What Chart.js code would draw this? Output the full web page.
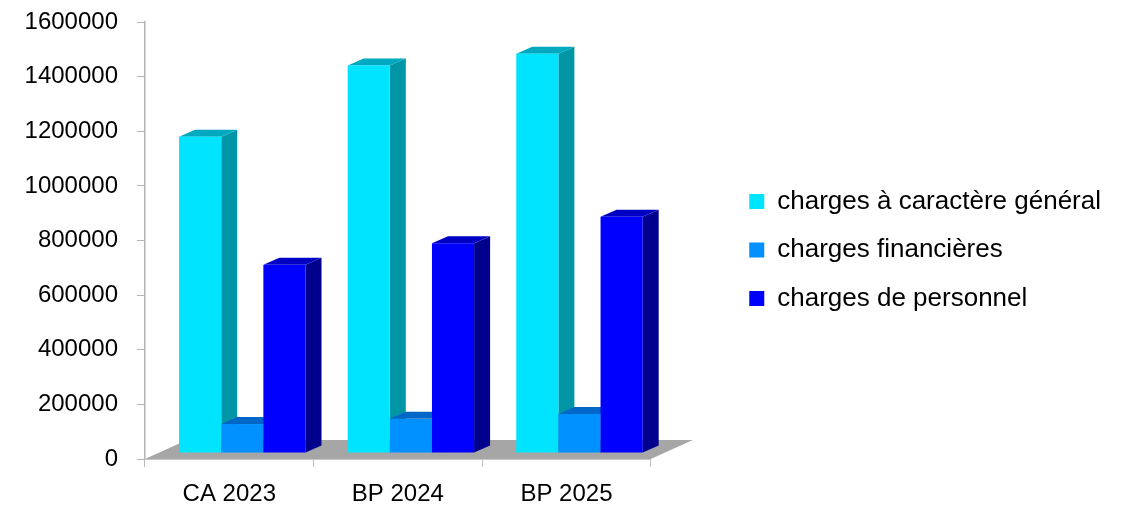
<!DOCTYPE html>
<html lang="fr">
<head>
<meta charset="utf-8">
<title>Charges</title>
<script src="https://cdn.jsdelivr.net/npm/chart.js@4.4.1/dist/chart.umd.min.js"></script>
<style>
  html, body { margin: 0; padding: 0; background: #fff; }
  canvas { display: block; }
</style>
</head>
<body>
<canvas id="chart" width="1124" height="505"></canvas>
<script>
// --- data ---
const CATEGORIES = ["CA 2023", "BP 2024", "BP 2025"];
const SERIES = ["charges à caractère général", "charges financières", "charges de personnel"];
const GENERAL = [1158000, 1419000, 1462000];
const FINANCIERES = [106000, 125000, 143000];
const PERSONNEL = [689000, 768000, 865000];
const Y_MAX = 1600000;
const Y_STEP = 200000;

// front / top / side colours of each series
const FACES = [
  { front: "#00e4ff", top: "#00a8c0", side: "#0096a6" },
  { front: "#0090ff", top: "#0066c8", side: "#0058ac" },
  { front: "#0000ff", top: "#0000c4", side: "#00008c" },
];

// fake 3D: floor depth, bars sit in the middle of it
const FLOOR = { dx: 42, dy: -19 };
const BAR = { ox: 13, oy: -6, dx: 16, dy: -7 };
const FONT = "'Liberation Sans', Arial, sans-serif";

function quad(ctx, color, pts) {
  ctx.fillStyle = color;
  ctx.beginPath();
  ctx.moveTo(pts[0][0], pts[0][1]);
  for (let i = 1; i < pts.length; i++) ctx.lineTo(pts[i][0], pts[i][1]);
  ctx.closePath();
  ctx.fill();
}

// draws floor + boxes from the bar elements chart.js laid out
const bars3d = {
  id: "bars3d",
  beforeDatasetDraw: () => false,
  beforeDatasetsDraw(chart) {
    const { ctx, chartArea: a } = chart;
    ctx.save();
    quad(ctx, "#a6a6a6", [
      [a.left, a.bottom],
      [a.right, a.bottom],
      [a.right + FLOOR.dx, a.bottom + FLOOR.dy],
      [a.left + FLOOR.dx, a.bottom + FLOOR.dy],
    ]);
    const metas = chart.data.datasets.map((_, i) => chart.getDatasetMeta(i));
    for (let j = 0; j < CATEGORIES.length; j++) {
      metas.forEach((meta, d) => {
        const el = meta.data[j];
        const f = FACES[d];
        const l = el.x - el.width / 2 + BAR.ox;
        const r = el.x + el.width / 2 + BAR.ox;
        const t = el.y + BAR.oy;
        const b = el.base + BAR.oy;
        quad(ctx, f.side, [[r, t], [r + BAR.dx, t + BAR.dy], [r + BAR.dx, b + BAR.dy], [r, b]]);
        quad(ctx, f.top, [[l, t], [r, t], [r + BAR.dx, t + BAR.dy], [l + BAR.dx, t + BAR.dy]]);
        ctx.fillStyle = f.front;
        ctx.fillRect(l, t, r - l, b - t);
      });
    }
    ctx.restore();
  },
};

const ds = (label, data, i) => ({
  label,
  data,
  backgroundColor: FACES[i].front,
  borderWidth: 0,
  xAxisID: "x",
  yAxisID: "y",
  barPercentage: 1,
  categoryPercentage: 0.75,
});

new Chart(document.getElementById("chart"), {
  type: "bar",
  data: {
    labels: CATEGORIES,
    datasets: [ds(SERIES[0], GENERAL, 0), ds(SERIES[1], FINANCIERES, 1), ds(SERIES[2], PERSONNEL, 2)],
  },
  options: {
    responsive: false,
    animation: false,
    devicePixelRatio: 1,
    layout: { padding: { top: 22, right: 13, bottom: 0, left: 0 } },
    plugins: {
      tooltip: { enabled: false },
      legend: {
        position: "right",
        fullSize: false,
        maxWidth: 440,
        // empty title only nudges the items down a little
        title: { display: true, text: "", padding: 0, font: { size: 19, lineHeight: 1 } },
        labels: { boxWidth: 15, boxHeight: 15, padding: 22.5, color: "#000", font: { family: FONT, size: 26 } },
      },
    },
    scales: {
      x: {
        grid: { drawOnChartArea: false, tickLength: 8, color: "#bdbdbd", offset: true },
        border: { color: "#c8c8c8", z: 1 },
        ticks: { color: "#000", padding: 13, font: { family: FONT, size: 24 } },
        afterFit: (s) => { s.height = 46; },
      },
      y: {
        min: 0,
        max: Y_MAX,
        grid: { drawOnChartArea: false, tickLength: 8, color: "#b3b3b3" },
        border: { color: "#b3b3b3", width: 1.5 },
        ticks: { stepSize: Y_STEP, color: "#000", padding: 19, font: { family: FONT, size: 24 }, callback: (v) => String(v) },
        afterFit: (s) => {
          s.width = 145;
          s.paddingTop = 0;
          s.paddingBottom = 0;
        },
      },
      // empty axis: keeps the gap between the floor and the legend
      gap: {
        type: "linear",
        position: "right",
        grid: { display: false },
        border: { display: false },
        ticks: { display: false },
        afterFit: (s) => { s.width = 76; },
      },
    },
  },
  plugins: [bars3d],
});
</script>
</body>
</html>
